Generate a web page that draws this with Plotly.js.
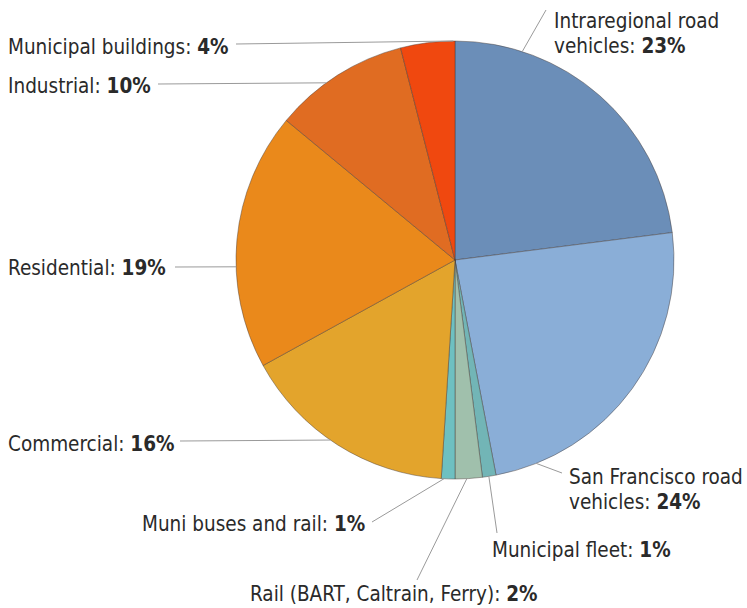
<!DOCTYPE html>
<html>
<head>
<meta charset="utf-8">
<script src="https://cdn.plot.ly/plotly-3.0.1.min.js"></script>
<style>
  html, body { margin: 0; padding: 0; background: #ffffff; }
  #chart { width: 747px; height: 608px; }
</style>
</head>
<body>
<div id="chart"></div>
<script>
// ---- data ----
var categories = [
  'Intraregional road<br>vehicles',
  'San Francisco road<br>vehicles',
  'Municipal fleet',
  'Rail (BART, Caltrain, Ferry)',
  'Muni buses and rail',
  'Commercial',
  'Residential',
  'Industrial',
  'Municipal buildings'
];
var shares = [23, 24, 1, 2, 1, 16, 19, 10, 4];
var sliceColors = ['#6b8eb8', '#8aaed7', '#72b5b6', '#a0c0ac', '#6ec0c1',
                   '#e3a42c', '#ea891b', '#e06c22', '#f0480f'];

// ---- layout constants (pixels) ----
var W = 747, H = 608;
var CX = 455, CY = 260, R = 219;
var FONT = '"DejaVu Sans Condensed", "DejaVu Sans", sans-serif';
var FS = 20.5;
var LINE_GAP = 24.6;

// label placement per slice: text anchor (px), alignment, leader end (px), leader position within slice (0..1)
var labelPlace = [
  {x: 552, y: 21,  align: 'left',  lx: 546, ly: 10,  t: 0.216},
  {x: 567, y: 477, align: 'left',  lx: 562, ly: 473, t: 0.873},
  {x: 490, y: 550, align: 'left',  lx: 497, ly: 533, t: 0.53},
  {x: 248, y: 594, align: 'left',  lx: 417, ly: 580, t: 0.57},
  {x: 367, y: 524, align: 'right', lx: 372, ly: 522, t: 0.8},
  {x: 6,   y: 444, align: 'left',  lx: 180, ly: 441, t: 0.54},
  {x: 6,   y: 268, align: 'left',  lx: 175, ly: 267, t: 0.395},
  {x: 6,   y: 86,  align: 'left',  lx: 158, ly: 84,  t: 0.4},
  {x: 6,   y: 47,  align: 'left',  lx: 236, ly: 44,  t: 0.97}
];

function px2x(p) { return p / W; }
function py2y(p) { return 1 - p / H; }

var total = shares.reduce(function (a, b) { return a + b; }, 0);

var trace = {
  type: 'pie',
  labels: categories,
  values: shares,
  sort: false,
  direction: 'clockwise',
  rotation: 0,
  textinfo: 'none',
  hoverinfo: 'none',
  marker: {colors: sliceColors, line: {color: 'rgba(70,60,55,0.45)', width: 1}},
  domain: {x: [px2x(CX - R), px2x(CX + R)], y: [py2y(CY + R), py2y(CY - R)]},
  showlegend: false
};

var annotations = [];
var shapes = [];
var cum = 0;
for (var i = 0; i < categories.length; i++) {
  var p = labelPlace[i];
  var lines = categories[i].split('<br>');
  lines[lines.length - 1] += ': <b>' + shares[i] + '%</b>';
  for (var j = 0; j < lines.length; j++) {
    annotations.push({
      xref: 'paper', yref: 'paper',
      x: px2x(p.x), y: py2y(p.y + j * LINE_GAP),
      xanchor: p.align, yanchor: 'middle',
      text: lines[j], showarrow: false,
      font: {family: FONT, size: FS, color: '#2a2a2a'}
    });
  }
  var theta = (cum + p.t * shares[i]) / total * 2 * Math.PI;
  var ex = CX + R * Math.sin(theta);
  var ey = CY - R * Math.cos(theta);
  shapes.push({
    type: 'line', xref: 'paper', yref: 'paper',
    x0: px2x(p.lx), y0: py2y(p.ly), x1: px2x(ex), y1: py2y(ey),
    line: {color: '#9a9a9a', width: 1}
  });
  cum += shares[i];
}

var layout = {
  width: W, height: H,
  margin: {l: 0, r: 0, t: 0, b: 0},
  paper_bgcolor: '#ffffff',
  plot_bgcolor: '#ffffff',
  showlegend: false,
  annotations: annotations,
  shapes: shapes
};

Plotly.newPlot('chart', [trace], layout, {displayModeBar: false, staticPlot: true});
</script>
</body>
</html>
